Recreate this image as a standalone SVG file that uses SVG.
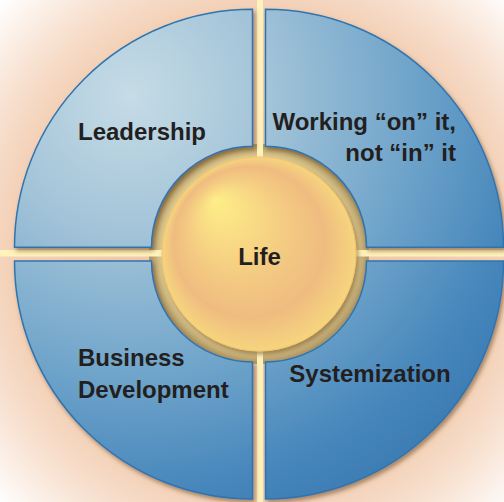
<svg xmlns="http://www.w3.org/2000/svg" width="504" height="502" viewBox="0 0 504 502">
  <defs>
    <radialGradient id="bg" gradientUnits="userSpaceOnUse" cx="259" cy="254" r="362">
      <stop offset="0" stop-color="#EFC3A2"/>
      <stop offset="0.68" stop-color="#F3D0B6"/>
      <stop offset="0.82" stop-color="#F8E2D2"/>
      <stop offset="1" stop-color="#FFFFFF"/>
    </radialGradient>
    <radialGradient id="blue" gradientUnits="userSpaceOnUse" cx="130" cy="95" r="470">
      <stop offset="0" stop-color="#C6DCE6"/>
      <stop offset="0.3" stop-color="#A2C3D8"/>
      <stop offset="0.6" stop-color="#6FA4CA"/>
      <stop offset="0.85" stop-color="#4686BB"/>
      <stop offset="1" stop-color="#3A7AB2"/>
    </radialGradient>
    <radialGradient id="gold" gradientUnits="userSpaceOnUse" cx="259" cy="254" r="97" fx="215" fy="200">
      <stop offset="0" stop-color="#FEEE88"/>
      <stop offset="0.5" stop-color="#F4CB82"/>
      <stop offset="0.78" stop-color="#EFBC80"/>
      <stop offset="1" stop-color="#F6D57E"/>
    </radialGradient>
    <radialGradient id="ring" gradientUnits="userSpaceOnUse" cx="259" cy="254" r="110">
      <stop offset="0.86" stop-color="#ECDA9E"/>
      <stop offset="1" stop-color="#A88F5C"/>
    </radialGradient>
    <filter id="shadow" x="-10%" y="-10%" width="125%" height="125%">
      <feDropShadow dx="2" dy="3" stdDeviation="2" flood-color="#6B4A20" flood-opacity="0.55"/>
    </filter>
  </defs>
  <style>
    .quad { fill: url(#blue); stroke: #2E75B0; stroke-width: 1.5; filter: url(#shadow); }
    .lbl { font-family: "Liberation Sans", Arial, sans-serif; font-weight: bold; font-size: 24px; fill: #231F20; }
    .stripe { fill: #FFF2BA; }
  </style>
  <rect x="0" y="0" width="504" height="502" fill="url(#bg)"/>
  <circle cx="259" cy="254" r="110" fill="url(#ring)"/>
  <g id="dividers">
    <rect class="stripe" x="257" y="0" width="6" height="502"/>
    <rect class="stripe" x="0" y="250" width="504" height="6.5"/>
  </g>
  <g id="life">
    <circle cx="259" cy="254" r="97" fill="url(#gold)" stroke="#F7C46A" stroke-width="1" filter="url(#shadow)"/>
    <text class="lbl" x="259.5" y="265" text-anchor="middle">Life</text>
  </g>
  <g id="leadership">
    <path class="quad" d="M 14.5,247.3 A 238 238 0 0 1 252.5,9.3 L 252.5,146.3 A 101 101 0 0 0 151.5,247.3 Z"/>
    <text class="lbl" x="142" y="140" text-anchor="middle">Leadership</text>
  </g>
  <g id="working">
    <path class="quad" d="M 265.5,9.3 A 238 238 0 0 1 503.5,247.3 L 366.5,247.3 A 101 101 0 0 0 265.5,146.3 Z"/>
    <text class="lbl" x="456" y="130" text-anchor="end">Working “on” it,</text>
    <text class="lbl" x="456" y="161" text-anchor="end">not “in” it</text>
  </g>
  <g id="business">
    <path class="quad" d="M 14.5,261 L 151.5,261 A 101 101 0 0 0 252.5,362 L 252.5,499 A 238 238 0 0 1 14.5,261 Z"/>
    <text class="lbl" x="78" y="366">Business</text>
    <text class="lbl" x="78" y="398">Development</text>
  </g>
  <g id="systemization">
    <path class="quad" d="M 265.5,362 A 101 101 0 0 0 366.5,261 L 503.5,261 A 238 238 0 0 1 265.5,499 Z"/>
    <text class="lbl" x="370" y="382" text-anchor="middle">Systemization</text>
  </g>
</svg>
